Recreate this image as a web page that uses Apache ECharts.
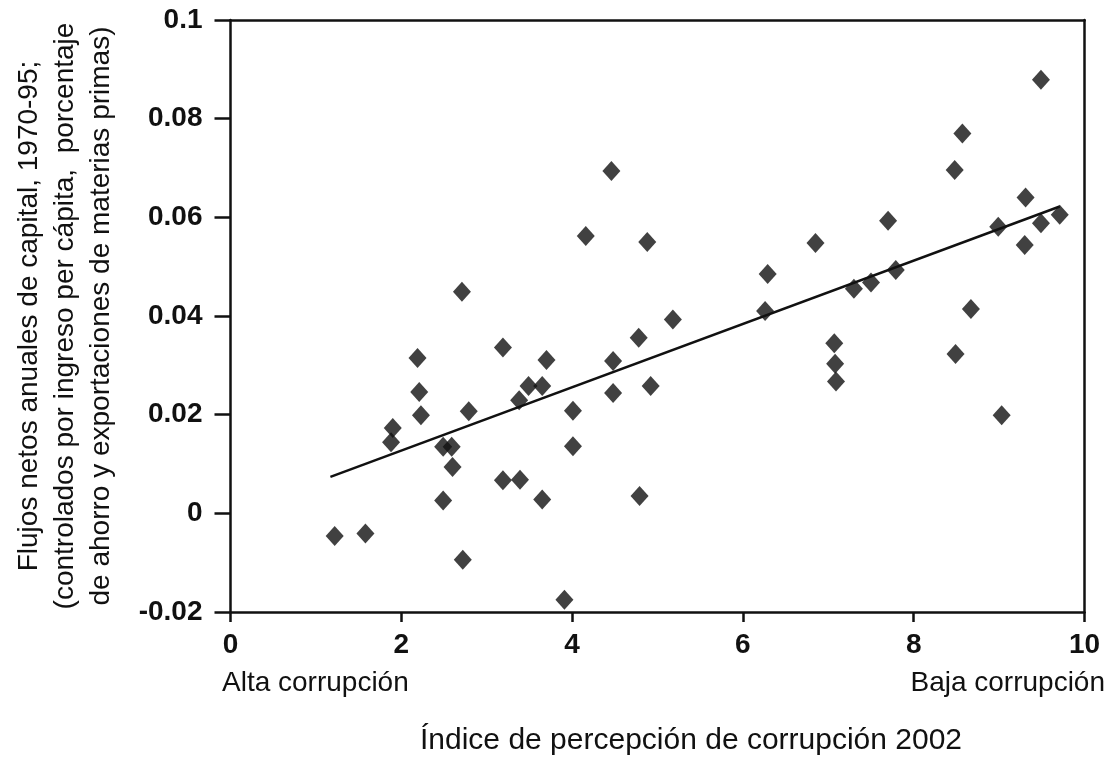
<!DOCTYPE html>
<html>
<head>
<meta charset="utf-8">
<script src="https://cdn.jsdelivr.net/npm/echarts@6/dist/echarts.min.js"></script>
<style>
html,body{margin:0;padding:0;background:#fff;}
#chart{width:1109px;height:760px;}
</style>
</head>
<body>
<div id="chart"></div>
<script>
// Corruption perception index 2002 (x) vs net annual capital flows (y)
const cpiValues = [1.22,1.58,1.90,1.88,2.19,2.21,2.23,2.49,2.49,2.59,2.60,2.71,2.72,2.79,3.19,3.19,3.39,3.38,3.49,3.65,3.70,3.65,3.91,4.01,4.01,4.16,4.46,4.48,4.48,4.78,4.79,4.88,4.92,5.18,6.26,6.29,6.85,7.07,7.08,7.09,7.30,7.50,7.70,7.79,8.48,8.49,8.57,8.67,9.03,8.99,9.31,9.30,9.49,9.49,9.71];
const flowValues = [-0.0046,-0.0041,0.0173,0.0144,0.0315,0.0246,0.0199,0.0026,0.0135,0.0135,0.0094,0.0449,-0.0094,0.0207,0.0336,0.0067,0.0068,0.0229,0.0258,0.0258,0.0311,0.0028,-0.0175,0.0208,0.0136,0.0562,0.0694,0.0309,0.0244,0.0356,0.0035,0.0550,0.0258,0.0393,0.0410,0.0485,0.0548,0.0345,0.0303,0.0267,0.0455,0.0468,0.0593,0.0493,0.0696,0.0323,0.0770,0.0414,0.0199,0.0581,0.0640,0.0544,0.0879,0.0588,0.0605];
const trendX = [1.17, 9.71];
const trendY = [0.0074, 0.0622];
const xTicks = [0, 2, 4, 6, 8, 10];
const yTicks = [-0.02, 0, 0.02, 0.04, 0.06, 0.08, 0.1];
const yAxisTitle = ['Flujos netos anuales de capital, 1970-95;', '(controlados por ingreso per cápita,  porcentaje', 'de ahorro y exportaciones de materias primas)'];
const xAxisTitle = 'Índice de percepción de corrupción 2002';
const xLeftNote = 'Alta corrupción';
const xRightNote = 'Baja corrupción';

const scatterData = cpiValues.map((x, i) => [x, flowValues[i]]);
const trendData = trendX.map((x, i) => [x, trendY[i]]);
const FONT = '"Liberation Sans", Arial, Helvetica, sans-serif';
const INK = '#111111';

const chart = echarts.init(document.getElementById('chart'), null, {renderer: 'canvas'});
chart.setOption({
  animation: false,
  backgroundColor: '#fff',
  grid: {left: 230.5, right: 24.5, top: 20, bottom: 148, containLabel: false},
  xAxis: [{
    type: 'value', min: xTicks[0], max: xTicks[xTicks.length - 1], interval: 2,
    axisLine: {show: true, onZero: false, lineStyle: {color: INK, width: 2.5}},
    axisTick: {show: true, length: 10, lineStyle: {color: INK, width: 2.5}},
    axisLabel: {color: INK, fontFamily: FONT, fontWeight: 'bold', fontSize: 28, margin: 19,
      formatter: v => String(v)},
    splitLine: {show: false}
  }, {
    type: 'value', position: 'top', min: xTicks[0], max: xTicks[xTicks.length - 1],
    axisLine: {show: true, onZero: false, lineStyle: {color: INK, width: 2.5}},
    axisTick: {show: false}, axisLabel: {show: false}, splitLine: {show: false}
  }],
  yAxis: [{
    type: 'value', min: yTicks[0], max: yTicks[yTicks.length - 1], interval: 0.02,
    name: yAxisTitle.join('\n'), nameLocation: 'middle', nameRotate: 90, nameGap: 111,
    nameTextStyle: {color: INK, fontFamily: FONT, fontSize: 28, lineHeight: 36},
    axisLine: {show: true, onZero: false, lineStyle: {color: INK, width: 2.5}},
    axisTick: {show: true, length: 16, lineStyle: {color: INK, width: 2.5}},
    axisLabel: {color: INK, fontFamily: FONT, fontWeight: 'bold', fontSize: 28, margin: 28,
      formatter: v => String(+v.toFixed(2))},
    splitLine: {show: false}
  }, {
    type: 'value', position: 'right', min: yTicks[0], max: yTicks[yTicks.length - 1],
    axisLine: {show: true, onZero: false, lineStyle: {color: INK, width: 2.5}},
    axisTick: {show: false}, axisLabel: {show: false}, splitLine: {show: false}
  }],
  series: [{
    type: 'line', data: trendData, showSymbol: false, symbol: 'none',
    lineStyle: {color: INK, width: 2.5}, z: 2, silent: true
  }, {
    type: 'scatter', data: scatterData, symbol: 'diamond', symbolSize: [18, 20],
    itemStyle: {color: INK}, z: 3
  }],
  graphic: [
    {type: 'text', left: 222, top: 669, style: {text: xLeftNote, fill: INK, font: '28px ' + FONT}},
    {type: 'text', right: 4, top: 669, style: {text: xRightNote, fill: INK, font: '28px ' + FONT}},
    {type: 'text', left: 420, top: 726, style: {text: xAxisTitle, fill: INK, font: '30px ' + FONT}}
  ]
});
</script>
</body>
</html>
